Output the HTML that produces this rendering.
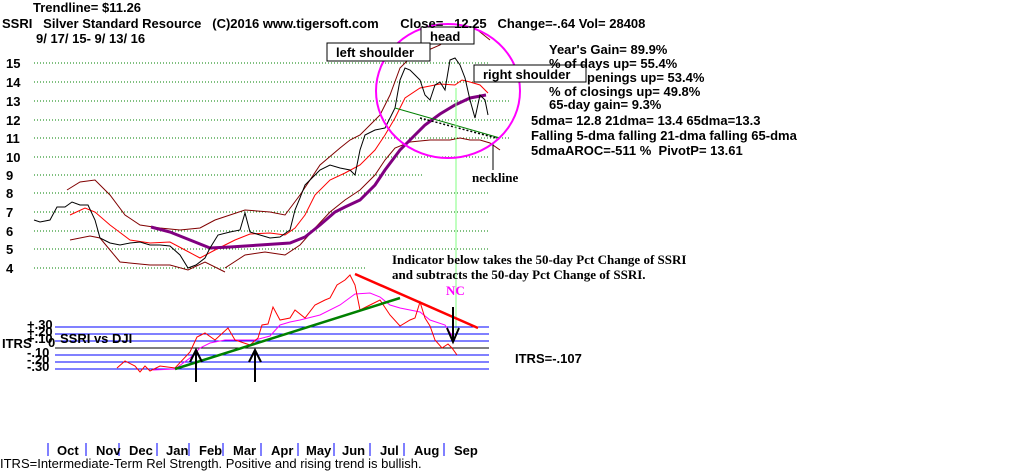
<!DOCTYPE html>
<html><head><meta charset="utf-8"><style>
html,body{margin:0;padding:0;background:#fff;}
svg{display:block}
.t{font-family:"Liberation Sans",sans-serif;font-weight:bold;font-size:13px;fill:#000}
.s{font-family:"Liberation Serif",serif;font-weight:bold;font-size:13px;fill:#000}
</style></head><body>
<svg width="1024" height="476" viewBox="0 0 1024 476" xmlns="http://www.w3.org/2000/svg">
<rect width="1024" height="476" fill="#fff"/>
<g stroke="#008000" stroke-dasharray="1,2" stroke-width="1">
<line x1="34" y1="63" x2="490" y2="63"/><line x1="34" y1="82" x2="510" y2="82"/>
<line x1="34" y1="101" x2="510" y2="101"/><line x1="34" y1="120" x2="510" y2="120"/>
<line x1="34" y1="138" x2="510" y2="138"/><line x1="34" y1="157" x2="490" y2="157"/>
<line x1="34" y1="175" x2="422" y2="175"/><line x1="34" y1="193" x2="490" y2="193"/>
<line x1="34" y1="212" x2="490" y2="212"/><line x1="34" y1="231" x2="490" y2="231"/>
<line x1="34" y1="249" x2="490" y2="249"/><line x1="34" y1="268" x2="366" y2="268"/>
</g>
<g>
<text x="6" y="68" class="t">15</text><text x="6" y="87" class="t">14</text><text x="6" y="106" class="t">13</text>
<text x="6" y="125" class="t">12</text><text x="6" y="143" class="t">11</text><text x="6" y="162" class="t">10</text>
<text x="6" y="180" class="t">9</text><text x="6" y="198" class="t">8</text><text x="6" y="217" class="t">7</text>
<text x="6" y="236" class="t">6</text><text x="6" y="254" class="t">5</text><text x="6" y="273" class="t">4</text>
</g>
<polyline fill="none" stroke="#800000" stroke-width="1" points="67,190 80,182 95,180 110,195 125,215 140,225 160,228 180,230 200,228 215,220 245,210 270,212 285,215 300,195 320,165 340,148 350,140 360,135 370,125 380,115 390,95 400,68 410,58 440,45 460,30 475,28 490,40"/>
<polyline fill="none" stroke="#ff0000" stroke-width="1" points="70,215 85,208 95,212 110,225 130,240 150,243 170,242 185,250 200,258 215,250 235,240 250,234 270,233 285,235 295,228 305,215 315,195 330,180 345,173 360,165 375,150 385,135 395,118 405,98 420,88 440,84 455,85 462,80 470,82 480,85 488,93"/>
<polyline fill="none" stroke="#800000" stroke-width="1" points="70,240 90,236 100,238 120,262 150,265 170,265 188,270 205,262 225,272"/>
<polyline fill="none" stroke="#800000" stroke-width="1" points="225,268 245,255 265,252 285,255 300,245 315,228 330,212 345,200 360,190 375,175 385,160 395,148 410,142 430,140 450,140 460,138 470,140 480,140 490,143 500,150"/>
<polyline fill="none" stroke="#800080" stroke-width="3" points="151,227 170,232 190,240 210,248 230,247 260,245 290,243 305,237 320,225 335,212 345,207 360,200 375,185 385,170 400,150 412,138 425,125 440,114 455,105 470,98 486,95"/>
<polyline fill="none" stroke="#000" stroke-width="1" points="34,220 40,222 50,220 57,207 65,207 72,202 80,205 88,205 95,220 100,238 110,243 120,245 130,243 140,242 150,245 160,245 170,246 180,255 188,268 196,265 205,258 210,248 218,235 230,232 240,230 245,213 250,232 260,235 270,238 280,237 290,230 295,210 300,198 305,185 310,180 315,175 320,170 330,165 340,168 350,170 355,175 360,150 365,135 375,130 385,128 390,118 395,108 400,80 405,68 410,70 415,75 420,80 425,95 430,100 435,85 440,82 445,90 450,60 455,58 460,65 465,78 470,100 475,118 480,95 485,100 488,115"/>
<line x1="395" y1="108" x2="500" y2="138" stroke="#008000" stroke-width="1"/>
<line x1="420" y1="118" x2="500" y2="139" stroke="#000" stroke-width="1.5" stroke-dasharray="2,2"/>
<line x1="493" y1="143" x2="493" y2="170" stroke="#000"/>
<line x1="456" y1="88" x2="456" y2="330" stroke="#80ff80"/>
<ellipse cx="448" cy="91" rx="72" ry="67" fill="none" stroke="#ff00ff" stroke-width="2"/>
<rect x="421" y="27" width="53" height="17" fill="#fff" stroke="#000"/><text x="430" y="41" class="t" font-size="15">head</text>
<rect x="327" y="43" width="103" height="18" fill="#fff" stroke="#000"/><text x="336" y="57" class="t" font-size="15">left shoulder</text>
<rect x="474" y="65" width="112" height="17" fill="#fff" stroke="#000"/><text x="483" y="79" class="t" font-size="15">right shoulder</text>
<text x="472" y="182" class="s">neckline</text>
<text x="33" y="12" class="t">Trendline= $11.26</text>
<text x="2" y="28" class="t" xml:space="preserve">SSRI   Silver Standard Resource   (C)2016 www.tigersoft.com      Close=   12.25   Change=-.64 Vol= 28408</text>
<text x="36" y="43" class="t">9/ 17/ 15- 9/ 13/ 16</text>
<text x="549" y="54" class="t">Year's Gain= 89.9%</text>
<text x="549" y="68" class="t">% of days up= 55.4%</text>
<text x="587" y="82" class="t">penings up= 53.4%</text>
<text x="549" y="96" class="t">% of closings up= 49.8%</text>
<text x="549" y="109" class="t">65-day gain= 9.3%</text>
<text x="531" y="125" class="t">5dma= 12.8 21dma= 13.4 65dma=13.3</text>
<text x="531" y="140" class="t">Falling 5-dma  falling 21-dma  falling 65-dma</text>
<text x="531" y="155" class="t" xml:space="preserve">5dmaAROC=-511 %  PivotP= 13.61</text>
<text x="392" y="264" class="s">Indicator below takes the 50-day Pct Change of SSRI</text>
<text x="392" y="279" class="s">and subtracts the 50-day Pct Change of SSRI.</text>
<text x="446" y="295" class="s" style="fill:#ff00ff">NC</text>
<g stroke="#0000ff" stroke-width="1">
<line x1="55" y1="327" x2="489" y2="327"/><line x1="55" y1="334" x2="489" y2="334"/><line x1="55" y1="341" x2="489" y2="341"/>
<line x1="55" y1="355" x2="489" y2="355"/><line x1="55" y1="362" x2="489" y2="362"/><line x1="55" y1="369" x2="489" y2="369"/>
</g>
<line x1="55" y1="348" x2="489" y2="348" stroke="#000"/>
<g>
<text x="27" y="329" class="t" font-size="12">+.30</text><text x="27" y="336" class="t" font-size="12">+.20</text><text x="27" y="343" class="t" font-size="12">+.10</text>
<text x="27" y="357" class="t" font-size="12">-.10</text><text x="27" y="364" class="t" font-size="12">-.20</text><text x="27" y="371" class="t" font-size="12">-.30</text>
</g>
<text x="2" y="348" class="t">ITRS</text><text x="48" y="347" class="t">0</text>
<text x="60" y="343" class="t">SSRI vs DJI</text>
<text x="515" y="363" class="t">ITRS=-.107</text>
<polyline fill="none" stroke="#ff00ff" stroke-width="1" points="153,370 175,369 190,358 200,348 210,343 225,340 240,340 255,340 270,336 280,325 290,322 300,320 320,315 340,305 355,294 370,293 380,297 390,305 400,308 420,312 430,320 445,325 455,340"/>
<polyline fill="none" stroke="#ff0000" stroke-width="1" points="117,368 125,361 135,366 140,372 145,366 150,371 160,366 175,368 190,352 197,337 205,333 215,340 228,328 235,340 250,345 258,338 262,325 268,324 273,307 280,320 290,318 295,310 305,318 315,305 325,300 330,298 337,285 345,280 350,275 355,285 360,310 370,305 380,300 390,315 400,326 410,320 415,318 420,302 425,318 430,326 435,340 442,348 448,344 452,348 457,355"/>
<line x1="175" y1="369" x2="400" y2="298" stroke="#008000" stroke-width="2.5"/>
<line x1="355" y1="274" x2="478" y2="328" stroke="#ff0000" stroke-width="2.5"/>
<g stroke="#000" stroke-width="2" fill="none">
<line x1="196" y1="382" x2="196" y2="350"/><polyline points="190,362 196,350 202,362"/>
<line x1="255" y1="382" x2="255" y2="350"/><polyline points="249,362 255,350 261,362"/>
<line x1="453" y1="307" x2="453" y2="342"/><polyline points="447,328 453,342 459,328"/>
</g>
<g stroke="#0000ff" stroke-width="1">
<line x1="48" y1="443" x2="48" y2="456"/><line x1="86" y1="443" x2="86" y2="456"/><line x1="119" y1="443" x2="119" y2="456"/>
<line x1="157" y1="443" x2="157" y2="456"/><line x1="189" y1="443" x2="189" y2="456"/><line x1="223" y1="443" x2="223" y2="456"/>
<line x1="261" y1="443" x2="261" y2="456"/><line x1="298" y1="443" x2="298" y2="456"/><line x1="334" y1="443" x2="334" y2="456"/>
<line x1="370" y1="443" x2="370" y2="456"/><line x1="404" y1="443" x2="404" y2="456"/><line x1="444" y1="443" x2="444" y2="456"/>
</g>
<text x="57" y="455" class="t">Oct</text><text x="96" y="455" class="t">Nov</text><text x="129" y="455" class="t">Dec</text>
<text x="166" y="455" class="t">Jan</text><text x="199" y="455" class="t">Feb</text><text x="233" y="455" class="t">Mar</text>
<text x="271" y="455" class="t">Apr</text><text x="306" y="455" class="t">May</text><text x="342" y="455" class="t">Jun</text>
<text x="380" y="455" class="t">Jul</text><text x="414" y="455" class="t">Aug</text><text x="454" y="455" class="t">Sep</text>
<text x="0" y="468" class="t" style="font-weight:normal">ITRS=Intermediate-Term Rel Strength. Positive and rising trend is bullish.</text>
</svg>
</body></html>
